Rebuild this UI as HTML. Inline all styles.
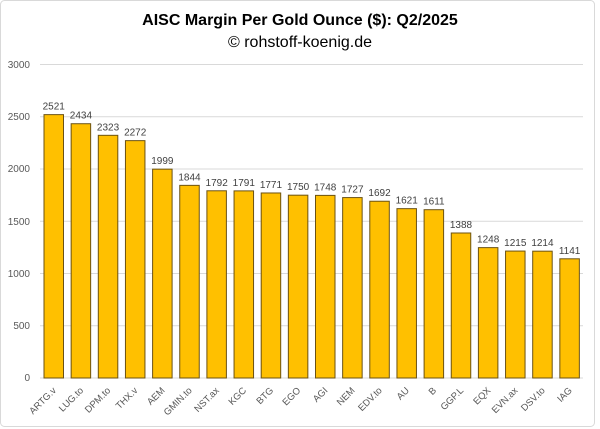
<!DOCTYPE html>
<html><head><style>
body{margin:0;background:#fff;}
svg{display:block;font-family:"Liberation Sans",Arial,sans-serif;}
</style></head><body>
<svg width="600" height="429" viewBox="0 0 600 429">
<rect x="0.5" y="0.5" width="594" height="426" rx="4" fill="#fff" stroke="#d9d9d9"/>
<text x="300" y="25" text-anchor="middle" font-size="16" font-weight="bold" fill="#000">AISC Margin Per Gold Ounce ($): Q2/2025</text>
<text x="300" y="47" text-anchor="middle" font-size="16" fill="#000">© rohstoff-koenig.de</text>
<g stroke="#d9d9d9" stroke-width="1">
<line x1="40" x2="583" y1="64.5" y2="64.5"/>
<line x1="40" x2="583" y1="116.7" y2="116.7"/>
<line x1="40" x2="583" y1="169" y2="169"/>
<line x1="40" x2="583" y1="221.2" y2="221.2"/>
<line x1="40" x2="583" y1="273.5" y2="273.5"/>
<line x1="40" x2="583" y1="325.7" y2="325.7"/>
<line x1="40" x2="583" y1="378" y2="378"/>
</g>
<g font-size="10" fill="#595959" text-anchor="end">
<text x="30" y="68">3000</text><text x="30" y="120">2500</text><text x="30" y="172">2000</text>
<text x="30" y="225">1500</text><text x="30" y="277">1000</text><text x="30" y="329">500</text><text x="30" y="381">0</text>
</g>
<g fill="#FFC000" stroke="#6b5212" stroke-width="1">
<rect x="44" y="114.63" width="19.5" height="263.37"/>
<rect x="71.15" y="123.72" width="19.5" height="254.28"/>
<rect x="98.3" y="135.32" width="19.5" height="242.68"/>
<rect x="125.45" y="140.64" width="19.5" height="237.36"/>
<rect x="152.6" y="169.16" width="19.5" height="208.84"/>
<rect x="179.75" y="185.36" width="19.5" height="192.64"/>
<rect x="206.9" y="190.79" width="19.5" height="187.21"/>
<rect x="234.05" y="190.89" width="19.5" height="187.11"/>
<rect x="261.2" y="192.98" width="19.5" height="185.02"/>
<rect x="288.35" y="195.18" width="19.5" height="182.82"/>
<rect x="315.5" y="195.39" width="19.5" height="182.61"/>
<rect x="342.65" y="197.58" width="19.5" height="180.42"/>
<rect x="369.8" y="201.24" width="19.5" height="176.76"/>
<rect x="396.95" y="208.65" width="19.5" height="169.35"/>
<rect x="424.1" y="209.7" width="19.5" height="168.3"/>
<rect x="451.25" y="233" width="19.5" height="145"/>
<rect x="478.4" y="247.62" width="19.5" height="130.38"/>
<rect x="505.55" y="251.07" width="19.5" height="126.93"/>
<rect x="532.7" y="251.17" width="19.5" height="126.83"/>
<rect x="559.85" y="258.8" width="19.5" height="119.2"/>
</g>
<g font-size="10" fill="#404040" text-anchor="middle">
<text x="53.75" y="109.6">2521</text>
<text x="80.9" y="118.7">2434</text>
<text x="108.05" y="130.3">2323</text>
<text x="135.2" y="135.6">2272</text>
<text x="162.35" y="164.2">1999</text>
<text x="189.5" y="180.4">1844</text>
<text x="216.65" y="185.8">1792</text>
<text x="243.8" y="185.9">1791</text>
<text x="270.95" y="188">1771</text>
<text x="298.1" y="190.2">1750</text>
<text x="325.25" y="190.4">1748</text>
<text x="352.4" y="192.6">1727</text>
<text x="379.55" y="196.2">1692</text>
<text x="406.7" y="203.6">1621</text>
<text x="433.85" y="204.7">1611</text>
<text x="461" y="228">1388</text>
<text x="488.15" y="242.6">1248</text>
<text x="515.3" y="246.1">1215</text>
<text x="542.45" y="246.2">1214</text>
<text x="569.6" y="253.8">1141</text>
</g>
<g font-size="9.5" fill="#595959" text-anchor="end">
<text transform="translate(56.75,391) rotate(-45)">ARTG.v</text>
<text transform="translate(83.9,391) rotate(-45)">LUG.to</text>
<text transform="translate(111.05,391) rotate(-45)">DPM.to</text>
<text transform="translate(138.2,391) rotate(-45)">THX.v</text>
<text transform="translate(165.35,391) rotate(-45)">AEM</text>
<text transform="translate(192.5,391) rotate(-45)">GMIN.to</text>
<text transform="translate(219.65,391) rotate(-45)">NST.ax</text>
<text transform="translate(246.8,391) rotate(-45)">KGC</text>
<text transform="translate(273.95,391) rotate(-45)">BTG</text>
<text transform="translate(301.1,391) rotate(-45)">EGO</text>
<text transform="translate(328.25,391) rotate(-45)">AGI</text>
<text transform="translate(355.4,391) rotate(-45)">NEM</text>
<text transform="translate(382.55,391) rotate(-45)">EDV.to</text>
<text transform="translate(409.7,391) rotate(-45)">AU</text>
<text transform="translate(436.85,391) rotate(-45)">B</text>
<text transform="translate(464,391) rotate(-45)">GGP.L</text>
<text transform="translate(491.15,391) rotate(-45)">EQX</text>
<text transform="translate(518.3,391) rotate(-45)">EVN.ax</text>
<text transform="translate(545.45,391) rotate(-45)">DSV.to</text>
<text transform="translate(572.6,391) rotate(-45)">IAG</text>
</g>
</svg>
</body></html>
